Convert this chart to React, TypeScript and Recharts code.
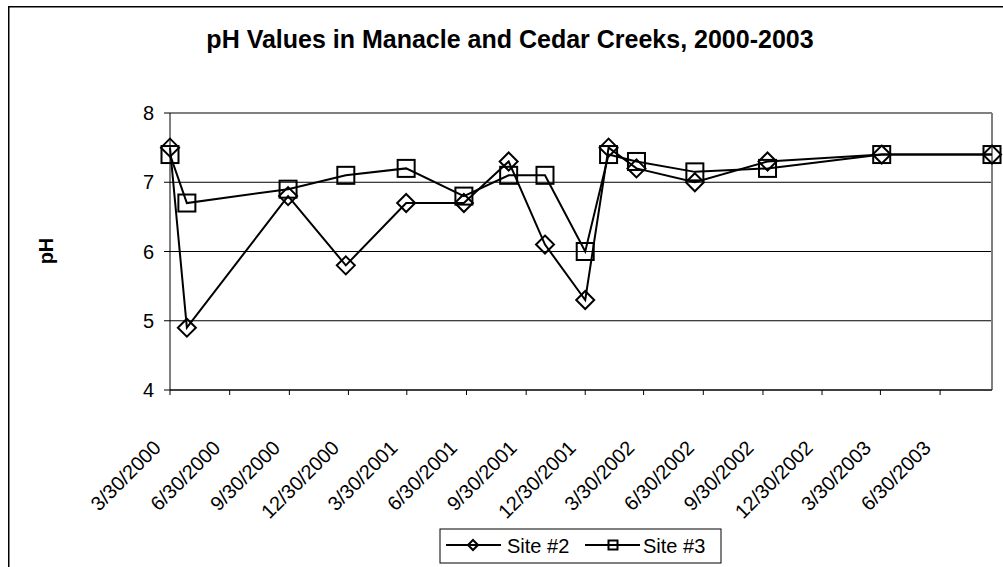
import React from "react";
import { LineChart, Line, XAxis, YAxis, CartesianGrid, ReferenceLine } from "recharts";

// sample dates and pH readings
const sampleDates = [
  "2000-03-30", "2000-04-25", "2000-09-28", "2000-12-26", "2001-03-29",
  "2001-06-26", "2001-09-03", "2001-10-29", "2001-12-30", "2002-02-04",
  "2002-03-19", "2002-06-17", "2002-10-07", "2003-04-01", "2003-09-18",
];
const site2 = [7.5, 4.9, 6.8, 5.8, 6.7, 6.7, 7.3, 6.1, 5.3, 7.5, 7.2, 7.0, 7.3, 7.4, 7.4];
const site3 = [7.4, 6.7, 6.9, 7.1, 7.2, 6.8, 7.1, 7.1, 6.0, 7.4, 7.3, 7.15, 7.2, 7.4, 7.4];

const tickDates = [
  "2000-03-30", "2000-06-30", "2000-09-30", "2000-12-30",
  "2001-03-30", "2001-06-30", "2001-09-30", "2001-12-30",
  "2002-03-30", "2002-06-30", "2002-09-30", "2002-12-30",
  "2003-03-30", "2003-06-30",
];
const yTicks = [4, 5, 6, 7, 8];

const toTime = (s: string) => {
  const [y, m, d] = s.split("-").map(Number);
  return Date.UTC(y, m - 1, d);
};

const data = sampleDates.map((d, i) => ({ t: toTime(d), s2: site2[i], s3: site3[i] }));
const xTicks = tickDates.map(toTime);

const fmt = (t: number) => {
  const d = new Date(t);
  return `${d.getUTCMonth() + 1}/${d.getUTCDate()}/${d.getUTCFullYear()}`;
};

const FONT = "'Liberation Sans', Arial, sans-serif";

const Diamond = ({ cx, cy, r = 9, sw = 2 }: any) => (
  <path
    d={`M${cx},${cy - r} L${cx + r},${cy} L${cx},${cy + r} L${cx - r},${cy} Z`}
    fill="none"
    stroke="#000"
    strokeWidth={sw}
  />
);

const Square = ({ cx, cy, r = 8.5, sw = 2 }: any) => (
  <rect x={cx - r} y={cy - r} width={r * 2} height={r * 2} fill="none" stroke="#000" strokeWidth={sw} />
);

// rotated date labels, right end tucked just left of the tick, below the axis
const DateTick = (props: any) => {
  const { x, y, payload } = props;
  const tx = x - 8;
  const ty = y + 54;
  return (
    <text
      x={tx}
      y={ty}
      textAnchor="end"
      transform={`rotate(-45 ${tx} ${ty})`}
      fontSize={20}
      fontFamily={FONT}
      fill="#000"
    >
      {fmt(payload.value)}
    </text>
  );
};

export default function App() {
  return (
    <>
      <style>{"html,body{margin:0;padding:0;overflow:hidden;background:#fff}"}</style>
      <div
        style={{
          position: "absolute",
          left: 8,
          top: 6,
          width: 995,
          height: 561,
          overflow: "hidden",
          background: "#fff",
        }}
      >
        <div style={{ position: "absolute", left: 0, top: 0 }}>
          <LineChart
            width={995}
            height={561}
            data={data}
            margin={{ top: 107, right: 11, left: 0, bottom: 0 }}
          >
            <CartesianGrid vertical={false} stroke="#000" strokeWidth={1} />
            <XAxis
              dataKey="t"
              type="number"
              scale="linear"
              domain={[data[0].t, data[data.length - 1].t]}
              ticks={xTicks}
              interval={0}
              height={177}
              tickSize={5}
              tickMargin={0}
              axisLine={{ stroke: "#000" }}
              tickLine={{ stroke: "#000" }}
              tick={<DateTick />}
            />
            <YAxis
              type="number"
              domain={[4, 8]}
              ticks={yTicks}
              width={162}
              tickSize={6}
              tickMargin={10}
              axisLine={{ stroke: "#000" }}
              tickLine={{ stroke: "#000" }}
              tick={{ fontSize: 20, fontFamily: FONT, fill: "#000" }}
            />
            <ReferenceLine y={8} stroke="#808080" strokeWidth={2} />
            <ReferenceLine x={data[data.length - 1].t} stroke="#808080" strokeWidth={2} />
            <Line
              dataKey="s2"
              name="Site #2"
              type="linear"
              stroke="#000"
              strokeWidth={2}
              isAnimationActive={false}
              dot={(p: any) => <Diamond key={`d${p.index}`} cx={p.cx} cy={p.cy} />}
            />
            <Line
              dataKey="s3"
              name="Site #3"
              type="linear"
              stroke="#000"
              strokeWidth={2}
              isAnimationActive={false}
              dot={(p: any) => <Square key={`s${p.index}`} cx={p.cx} cy={p.cy} />}
            />
          </LineChart>
        </div>
        <svg
          width={995}
          height={561}
          style={{ position: "absolute", left: 0, top: 0, pointerEvents: "none" }}
        >
          {/* chart area frame, cut off at the right and bottom */}
          <line x1={0} y1={0.75} x2={995} y2={0.75} stroke="#000" strokeWidth={1.5} />
          <line x1={0.75} y1={0} x2={0.75} y2={561} stroke="#000" strokeWidth={1.5} />
          <text
            x={502}
            y={42}
            textAnchor="middle"
            fontSize={25}
            fontWeight="bold"
            fontFamily={FONT}
          >
            pH Values in Manacle and Cedar Creeks, 2000-2003
          </text>
          <text
            x={45}
            y={245}
            textAnchor="middle"
            fontSize={20}
            fontWeight="bold"
            fontFamily={FONT}
            transform="rotate(-90 45 245)"
          >
            pH
          </text>
          <g>
            <rect x={432} y={523} width={281} height={34} fill="#fff" stroke="#000" strokeWidth={1} />
            <line x1={438} y1={539} x2={493} y2={539} stroke="#000" strokeWidth={2} />
            <Diamond cx={465} cy={539} r={5} sw={2} />
            <text x={499} y={547} fontSize={20} fontFamily={FONT}>
              Site #2
            </text>
            <line x1={577} y1={539} x2={632} y2={539} stroke="#000" strokeWidth={2} />
            <Square cx={605} cy={539} r={4.5} sw={2} />
            <text x={635} y={547} fontSize={20} fontFamily={FONT}>
              Site #3
            </text>
          </g>
        </svg>
      </div>
    </>
  );
}
